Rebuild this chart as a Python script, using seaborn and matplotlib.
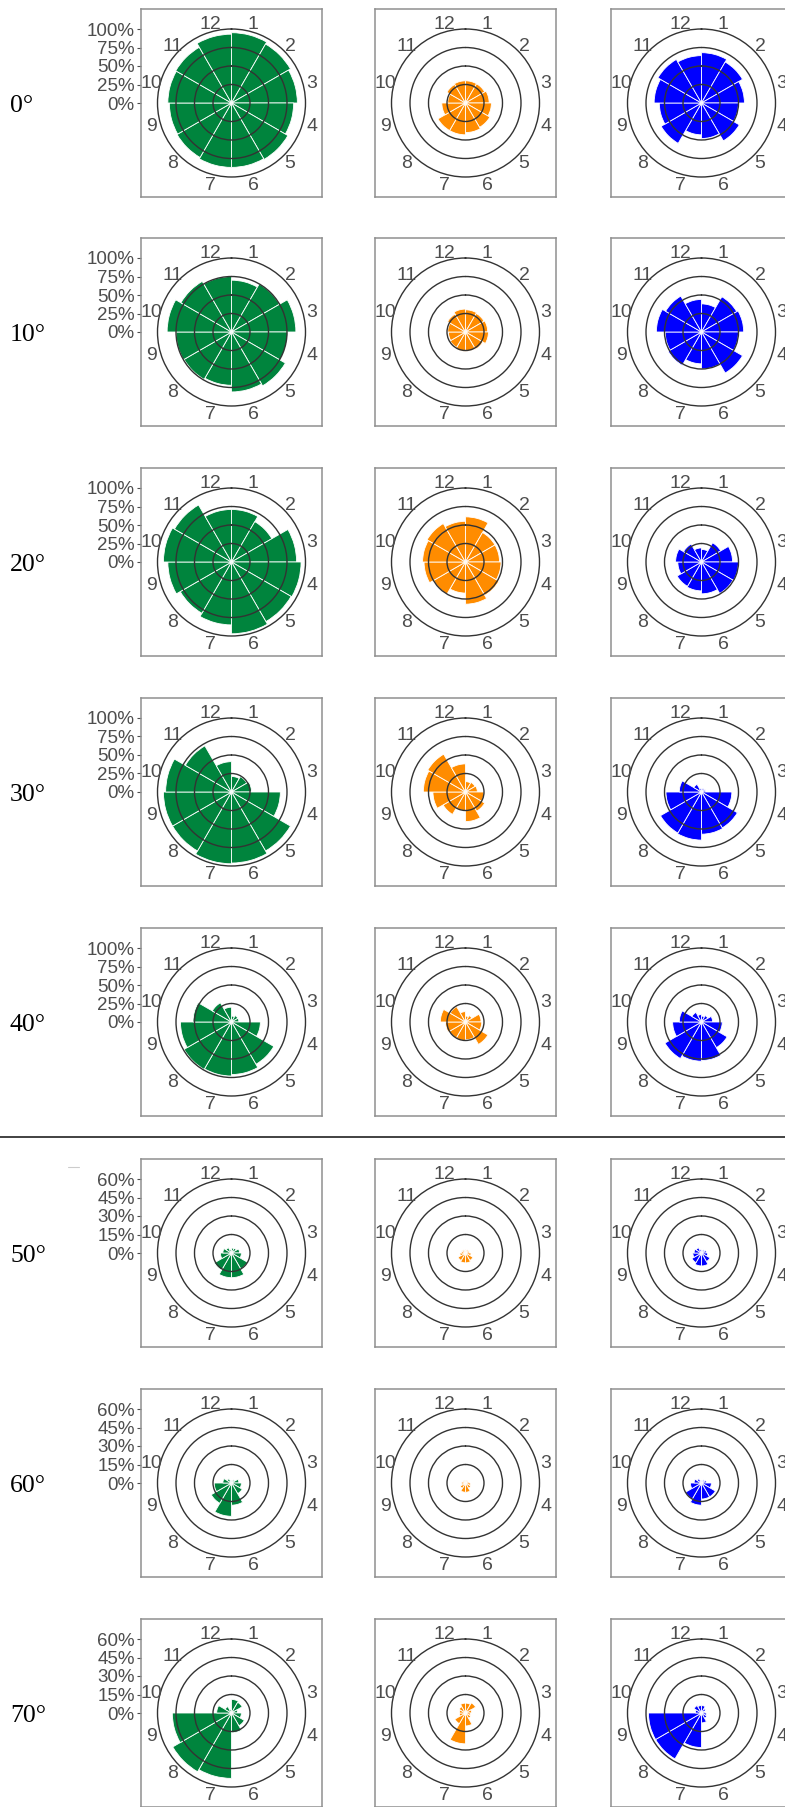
import numpy as np
import matplotlib
matplotlib.use('Agg')
import matplotlib.pyplot as plt
import seaborn as sns

sns.set_theme(style='white')
plt.rcParams['font.family'] = ['Liberation Sans', 'DejaVu Sans']

# ---- data ----
row_labels = ['0°', '10°', '20°', '30°', '40°', '50°', '60°', '70°']
sector_labels = ['1', '2', '3', '4', '5', '6', '7', '8', '9', '10', '11', '12']
sector_deg = [15, 45, 75, 105, 135, 165, 195, 225, 255, 285, 315, 345]  # clockwise from 12 o'clock
upper_ticks = [0, 25, 50, 75, 100]
lower_ticks = [0, 15, 30, 45, 60]
upper_labels = ['0%', '25%', '50%', '75%', '100%']
lower_labels = ['0%', '15%', '30%', '45%', '60%']

# percent per clock sector (1..12), one list per row
green = [
    [95, 92, 89, 84, 88, 87, 87, 85, 84, 86, 87, 93],
    [70, 75, 87, 76, 84, 81, 72, 74, 75, 87, 79, 75],
    [71, 63, 88, 94, 93, 97, 85, 80, 86, 92, 89, 71],
    [21, 24, 27, 66, 92, 96, 97, 92, 92, 89, 72, 41],
    [8, 10, 10, 39, 66, 71, 73, 74, 69, 52, 30, 20],
    [4, 4.5, 6.5, 8, 15, 20, 20, 16, 9, 7, 5, 3],
    [2, 3, 6, 8, 10, 18, 27, 19, 14, 7, 4, 2],
    [11, 10, 5, 8, 12, 16, 53, 55, 48, 12, 6, 3],
]
orange = [
    [30, 30, 32, 35, 38, 40, 43, 43, 32, 24, 29, 30],
    [30, 29, 30, 31, 27, 26, 26, 24, 23, 24, 28, 31],
    [61, 46, 46, 48, 52, 57, 42, 50, 56, 58, 60, 55],
    [14, 15, 16, 25, 30, 40, 25, 35, 44, 57, 59, 38],
    [8, 10, 21, 22, 35, 24, 25, 25, 27, 34, 24, 14],
    [2.5, 3, 3.5, 4.5, 7, 8, 8, 7, 4.5, 3.5, 3, 2.5],
    [2, 2.5, 3, 4, 5, 7.5, 7.5, 5, 3.5, 3, 2.5, 2],
    [8, 9.5, 5, 4, 5, 10.5, 25, 10, 5, 5, 6, 8],
]
blue = [
    [68, 64, 58, 50, 59, 48, 43, 63, 57, 64, 68, 64],
    [38, 55, 57, 50, 64, 50, 43, 52, 49, 61, 56, 44],
    [17, 30, 42, 50, 49, 43, 39, 38, 32, 35, 28, 19],
    [5, 5, 6, 41, 56, 57, 65, 64, 48, 30, 12, 5],
    [8, 10, 15, 28, 40, 52, 53, 57, 39, 30, 15, 10],
    [2, 3, 4, 5, 8, 10.5, 10.5, 9, 7, 6, 5, 3],
    [1, 3, 4, 8, 13, 13, 18, 15, 9, 6, 4, 2],
    [6, 4, 3, 4, 5, 8, 28, 43, 43, 5, 7, 6],
]
series = [green, orange, blue]
colors = ['#00843D', '#FF8C00', '#0000FF']

# ---- layout (pixels) ----
W, H = 785, 1807
box_tops = [9, 238, 468, 698, 928, 1159, 1389, 1619]
box_lefts = [141, 375, 611]
BOX_W, BOX_H = 181, 188
R_PX = 74
TXT = '#4d4d4d'


def rect(x, y, w, h):
    return [x / W, 1 - (y + h) / H, w / W, h / H]


fig = plt.figure(figsize=(W / 100, H / 100), dpi=100)
theta = np.deg2rad(sector_deg)

for r, top in enumerate(box_tops):
    ticks = upper_ticks if r < 5 else lower_ticks
    tick_labels = upper_labels if r < 5 else lower_labels
    rmax = ticks[-1]
    cy = top + BOX_H / 2

    fig.text(10 / W, 1 - (cy + 3) / H, row_labels[r], family='Liberation Serif',
             fontsize=18.5, color='black', ha='left', va='center')

    for c, left in enumerate(box_lefts):
        # frame box; its y scale carries the radial axis for the first column
        box = fig.add_axes(rect(left, top, BOX_W, BOX_H))
        half = rmax * (BOX_H / 2) / R_PX
        box.set_ylim(-half, half)
        box.set_xticks([])
        for s in box.spines.values():
            s.set_color('#8f8f8f')
            s.set_linewidth(1.1)
        if c == 0:
            box.set_yticks(ticks)
            box.set_yticklabels(tick_labels)
            box.tick_params(axis='y', left=True, length=3, width=0.8, color=TXT,
                            labelcolor=TXT, labelsize=13.5, pad=1.5)
        else:
            box.set_yticks([])

        cx = left + BOX_W / 2
        ax = fig.add_axes(rect(cx - R_PX, cy - R_PX, 2 * R_PX, 2 * R_PX), projection='polar')
        ax.set_facecolor('none')
        ax.set_theta_zero_location('N')
        ax.set_theta_direction(-1)
        sns.barplot(x=theta, y=series[c][r], native_scale=True, width=1.0,
                    color=colors[c], saturation=1, edgecolor='white',
                    linewidth=0.6, ax=ax)
        ax.set_xlabel('')
        ax.set_ylabel('')
        ax.set_xlim(0, 2 * np.pi)
        ax.set_ylim(0, rmax)
        ax.set_rorigin(0)
        ax.set_xticks([])
        ax.set_yticks(ticks[1:-1])
        ax.set_yticklabels([])
        ax.set_axisbelow(False)
        ax.xaxis.grid(False)
        ax.yaxis.grid(True, color='#333333', linewidth=1.0)
        ax.spines['polar'].set_color('#333333')
        ax.spines['polar'].set_linewidth(1.0)
        for t, lab in zip(theta, sector_labels):
            ax.text(t, rmax * 1.12, lab, ha='center', va='center_baseline',
                    fontsize=14, color=TXT, clip_on=False)

# separator between the two groups of rows
fig.add_artist(plt.Line2D([0, 1], [1 - 1137 / H] * 2, color='#333333', linewidth=1.3))
fig.add_artist(plt.Line2D([68 / W, 79 / W], [1 - 1167 / H] * 2, color='#cccccc', linewidth=0.8))

fig.savefig('out.png', dpi=100)
